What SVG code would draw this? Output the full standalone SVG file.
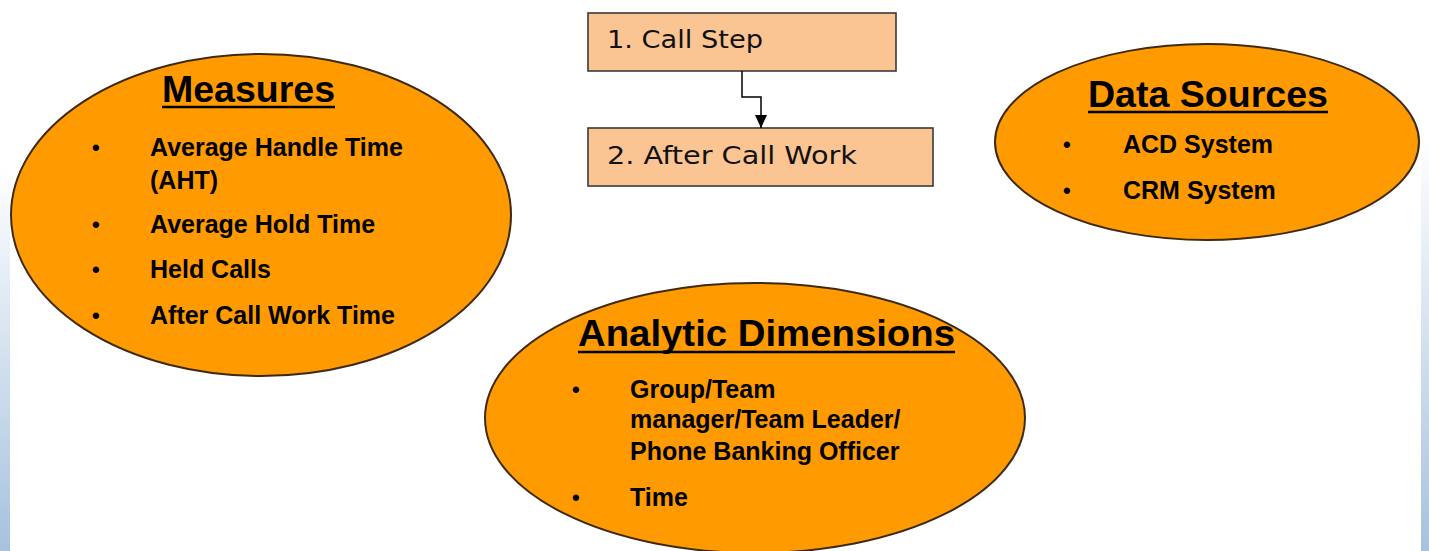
<svg xmlns="http://www.w3.org/2000/svg" width="1429" height="551" viewBox="0 0 1429 551">
  <defs>
    <linearGradient id="edgeLeft" x1="0" y1="0" x2="0" y2="1">
      <stop offset="0" stop-color="#ffffff"/>
      <stop offset="0.3" stop-color="#ffffff"/>
      <stop offset="1" stop-color="#a6c2de"/>
    </linearGradient>
    <linearGradient id="edgeRight" x1="0" y1="0" x2="0" y2="1">
      <stop offset="0" stop-color="#ffffff"/>
      <stop offset="0.25" stop-color="#ffffff"/>
      <stop offset="1" stop-color="#a6c2de"/>
    </linearGradient>
    <marker id="arrow" viewBox="0 0 13 12" refX="13" refY="6" markerWidth="13" markerHeight="12" markerUnits="userSpaceOnUse" orient="auto">
      <path d="M0,0 L13,6 L0,12 Z" fill="#000000"/>
    </marker>
    <style>
      .oval { fill: #ff9a00; stroke: #3d2a10; stroke-width: 2; }
      .step { fill: #fac592; stroke: #3a3a3a; stroke-width: 1.6; }
      .stepText { font-family: "DejaVu Sans", Verdana, sans-serif; font-size: 24px; fill: #111111; }
      .title { font-family: "Liberation Sans", Arial, sans-serif; font-weight: bold; font-size: 37px; fill: #000000; }
      .item { font-family: "Liberation Sans", Arial, sans-serif; font-weight: bold; font-size: 25px; fill: #000000; }
      .dot { font-family: "Liberation Sans", Arial, sans-serif; font-weight: bold; font-size: 22px; fill: #000000; }
      .rule { stroke: #000000; stroke-width: 2.5; }
      .link { fill: none; stroke: #000000; stroke-width: 1.5; }
    </style>
  </defs>

  <!-- page background with tinted side edges -->
  <rect x="0" y="0" width="1429" height="551" fill="#ffffff"/>
  <rect x="0" y="0" width="10" height="551" fill="url(#edgeLeft)"/>
  <rect x="1421" y="0" width="8" height="551" fill="url(#edgeRight)"/>

  <!-- measures -->
  <g id="measures">
    <ellipse class="oval" cx="261" cy="215" rx="250" ry="161"/>
    <text class="title" x="162" y="102" textLength="173" lengthAdjust="spacingAndGlyphs">Measures</text>
    <line class="rule" x1="162" y1="107" x2="335" y2="107"/>
    <text class="dot" x="92" y="155">•</text>
    <text class="item" x="150" y="156">Average Handle Time</text>
    <text class="item" x="150" y="189">(AHT)</text>
    <text class="dot" x="92" y="232">•</text>
    <text class="item" x="150" y="233">Average Hold Time</text>
    <text class="dot" x="92" y="277">•</text>
    <text class="item" x="150" y="278">Held Calls</text>
    <text class="dot" x="92" y="323">•</text>
    <text class="item" x="150" y="324">After Call Work Time</text>
  </g>

  <!-- call steps -->
  <g id="step1">
    <rect class="step" x="588" y="13" width="308" height="58"/>
    <text class="stepText" x="607" y="48" textLength="156" lengthAdjust="spacingAndGlyphs">1. Call Step</text>
  </g>
  <g id="step2">
    <rect class="step" x="588" y="128" width="345" height="58"/>
    <text class="stepText" x="607" y="164" textLength="250" lengthAdjust="spacingAndGlyphs">2. After Call Work</text>
  </g>

  <!-- data sources -->
  <g id="data-sources">
    <ellipse class="oval" cx="1207" cy="142" rx="212" ry="98"/>
    <text class="title" x="1088" y="107" textLength="240" lengthAdjust="spacingAndGlyphs">Data Sources</text>
    <line class="rule" x1="1088" y1="112" x2="1328" y2="112"/>
    <text class="dot" x="1063" y="152">•</text>
    <text class="item" x="1123" y="153">ACD System</text>
    <text class="dot" x="1063" y="198">•</text>
    <text class="item" x="1123" y="199">CRM System</text>
  </g>

  <!-- analytic dimensions -->
  <g id="analytic-dimensions">
    <ellipse class="oval" cx="755" cy="418" rx="270" ry="135"/>
    <text class="title" x="578" y="346" textLength="377" lengthAdjust="spacingAndGlyphs">Analytic Dimensions</text>
    <line class="rule" x1="578" y1="352" x2="955" y2="352"/>
    <text class="dot" x="572" y="397">•</text>
    <text class="item" x="630" y="398">Group/Team</text>
    <text class="item" x="630" y="428">manager/Team Leader/</text>
    <text class="item" x="630" y="460">Phone Banking Officer</text>
    <text class="dot" x="572" y="505">•</text>
    <text class="item" x="630" y="506">Time</text>
  </g>

  <!-- connectors -->
  <g id="connectors">
    <path class="link" d="M742,71 V97 H761 V128" marker-end="url(#arrow)"/>
  </g>
</svg>
